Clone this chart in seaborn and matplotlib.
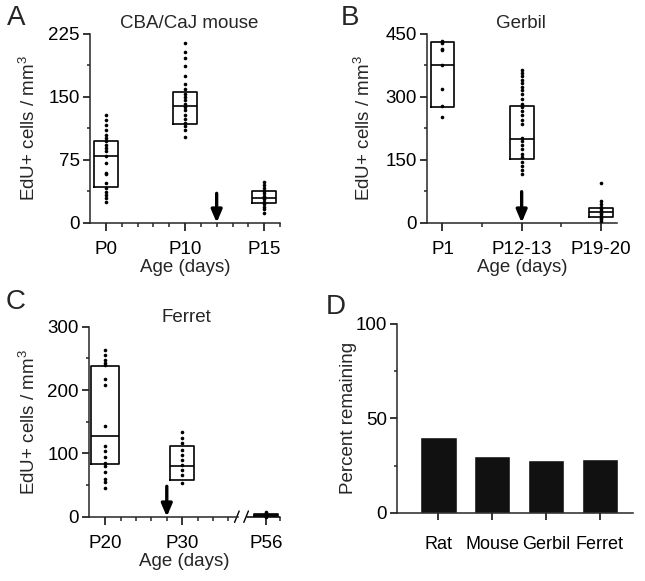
import numpy as np
import pandas as pd
import matplotlib
matplotlib.use("Agg")
import matplotlib.pyplot as plt
import matplotlib.transforms as mtransforms
import seaborn as sns

# A: CBA/CaJ mouse (EdU+ cells / mm3)
mouse_ages = ["P0", "P10", "P15"]
mouse_p0 = [129, 123, 117, 111, 105, 101, 97, 93, 89, 85, 79, 71, 59, 58, 47, 41, 37, 33, 29, 25]
mouse_p10 = [214, 203, 196, 187, 175, 165, 159, 154, 150, 146, 142, 138, 134, 129, 124, 119, 115, 111, 102]
mouse_p15 = [49, 45, 41, 38, 35, 32, 30, 28, 25, 22, 19, 16, 12]
mouse_q1 = [43, 118, 23]
mouse_med = [79, 139, 30]
mouse_q3 = [97, 156, 38]
mouse_arrow = 35

# B: gerbil
gerbil_ages = ["P1", "P12-13", "P19-20"]
gerbil_p1 = [433, 428, 415, 412, 375, 320, 278, 252]
gerbil_p12 = [364, 357, 349, 340, 332, 324, 316, 306, 296, 284, 275, 266, 256, 246, 235,
              203, 195, 185, 175, 165, 156, 145, 136, 125, 117]
gerbil_p19 = [94, 52, 45, 38, 33, 28, 24, 20, 16, 12, 8, 4]
gerbil_q1 = [276, 153, 13]
gerbil_med = [375, 199, 25]
gerbil_q3 = [430, 278, 34]
gerbil_arrow = 74

# C: ferret
ferret_ages = ["P20", "P30", "P56"]
ferret_p20 = [264, 255, 248, 243, 240, 217, 208, 143, 112, 103, 95, 85, 80, 70, 60, 55, 46]
ferret_p30 = [133, 124, 116, 105, 97, 90, 82, 74, 66, 54]
ferret_p56 = [0, 1, 2, 3, 4, 6, 8]
ferret_q1 = [83, 58, 0.5]
ferret_med = [127, 80, 2]
ferret_q3 = [238, 112, 4]
ferret_arrow = 48

# D: percent remaining
species = ["Rat", "Mouse", "Gerbil", "Ferret"]
percent_remaining = [40.3, 30, 28, 28.5]

sns.set_style("ticks")
plt.rcParams["font.family"] = ["Liberation Sans", "DejaVu Sans"]
plt.rcParams["mathtext.fontset"] = "custom"
plt.rcParams["mathtext.rm"] = "Liberation Sans"
plt.rcParams["mathtext.it"] = "Liberation Sans:italic"
plt.rcParams["axes.linewidth"] = 1.1
plt.rcParams["xtick.major.width"] = 1.1
plt.rcParams["ytick.major.width"] = 1.1
plt.rcParams["xtick.minor.width"] = 1.1
plt.rcParams["ytick.minor.width"] = 1.1

FS = 13.5
W, H = 645, 581
fig = plt.figure(figsize=(W / 100, H / 100), dpi=100)


def add_ax(left, top, right, bottom):
    return fig.add_axes([left / W, 1 - bottom / H, (right - left) / W, (bottom - top) / H])


def box_panel(ax, groups, pos, q1, med, q3, widths):
    stats = [dict(q1=a, med=m, q3=b, whislo=a, whishi=b) for a, m, b in zip(q1, med, q3)]
    ax.bxp(stats, positions=pos, widths=widths, showfliers=False, showcaps=False,
           boxprops=dict(color="k", lw=1.2), medianprops=dict(color="k", lw=1.2),
           whiskerprops=dict(lw=0), manage_ticks=False)
    df = pd.DataFrame({
        "x": np.concatenate([[p] * len(g) for p, g in zip(pos, groups)]),
        "y": np.concatenate(groups),
    })
    sns.stripplot(data=df, x="x", y="y", native_scale=True, jitter=False, orient="v",
                  color="k", size=2.6, linewidth=0, ax=ax, zorder=3, clip_on=False)


def style_ax(ax, xlim, ylim, xmaj, xlabels, xmin, yticks, yminor):
    sns.despine(ax=ax)
    ax.set_xlim(*xlim)
    ax.set_ylim(*ylim)
    ax.set_xticks(xmaj, xlabels)
    ax.set_xticks(xmin, minor=True)
    ax.set_yticks(yticks)
    ax.set_yticks(yminor, minor=True)
    ax.tick_params(axis="x", which="major", length=6, pad=7, labelsize=FS, colors="k")
    ax.tick_params(axis="x", which="minor", length=3)
    ax.tick_params(axis="y", which="major", length=5, pad=2.5, labelsize=FS, colors="k")
    ax.tick_params(axis="y", which="minor", length=2.5)


def arrow(ax, x, top):
    ax.annotate("", xy=(x, 0), xytext=(x, top),
                arrowprops=dict(arrowstyle="-|>,head_width=0.32,head_length=0.75", color="k",
                                lw=2.4, shrinkA=0, shrinkB=0, mutation_scale=10))


ylab = "EdU+ cells / mm$^3$"

# ---- A
axA = add_ax(90, 34, 280, 222.7)
box_panel(axA, [mouse_p0, mouse_p10, mouse_p15], [1, 6, 11], mouse_q1, mouse_med, mouse_q3, 1.55)
style_ax(axA, (0, 12), (0, 225), [1, 6, 11], mouse_ages, [2, 3, 4, 5, 7, 8, 9, 10, 12],
         [0, 75, 150, 225], [37.5, 112.5, 187.5])
arrow(axA, 8, mouse_arrow)
axA.set_ylabel(ylab, fontsize=FS)
axA.yaxis.set_label_coords(-0.27, 0.5)
axA.set_xlabel("Age (days)", fontsize=FS)
axA.xaxis.set_label_coords(0.5, -0.192)
axA.text(0.52, 1.03, "CBA/CaJ mouse", transform=axA.transAxes, ha="center", va="baseline", fontsize=FS)

# ---- B
axB = add_ax(427, 34, 616.7, 222.7)
box_panel(axB, [gerbil_p1, gerbil_p12, gerbil_p19], [1, 3, 5], gerbil_q1, gerbil_med, gerbil_q3, 0.6)
style_ax(axB, (0.61, 5.4), (0, 450), [1, 3, 5], gerbil_ages, [2, 4],
         [0, 150, 300, 450], [75, 225, 375])
arrow(axB, 3, gerbil_arrow)
axB.set_ylabel(ylab, fontsize=FS)
axB.yaxis.set_label_coords(-0.28, 0.5)
axB.set_xlabel("Age (days)", fontsize=FS)
axB.xaxis.set_label_coords(0.5, -0.192)
axB.text(0.494, 1.03, "Gerbil", transform=axB.transAxes, ha="center", va="baseline", fontsize=FS)

# ---- C
axC = add_ax(89, 326.7, 280, 516.7)
box_panel(axC, [ferret_p20, ferret_p30, ferret_p56], [1, 6, 11.43], ferret_q1, ferret_med, ferret_q3,
          [1.8, 1.55, 1.6])
style_ax(axC, (-0.05, 12.35), (0, 300), [1, 6, 11.43], ferret_ages, [2, 3, 4, 5, 7, 8, 9, 12.35],
         [0, 100, 200, 300], [50, 150, 250])
arrow(axC, 5, ferret_arrow)
# axis break
axC.spines["bottom"].set_bounds(-0.05, 9.6)
trans = mtransforms.blended_transform_factory(axC.transData, axC.transAxes)
axC.plot([10.2, 12.35], [0, 0], color="k", lw=1.1, transform=trans, clip_on=False)
for bx in (9.55, 10.15):
    axC.plot([bx - 0.15, bx + 0.15], [-0.03, 0.03], color="k", lw=1.0, transform=trans, clip_on=False)
axC.set_ylabel(ylab, fontsize=FS)
axC.yaxis.set_label_coords(-0.262, 0.5)
axC.set_xlabel("Age (days)", fontsize=FS)
axC.xaxis.set_label_coords(0.5, -0.19)
axC.text(0.51, 1.027, "Ferret", transform=axC.transAxes, ha="center", va="baseline", fontsize=FS)

# ---- D
axD = add_ax(397.3, 324, 633.3, 512.7)
sns.barplot(x=species, y=percent_remaining, color="#111111", saturation=1, width=0.68, ax=axD)
sns.despine(ax=axD)
axD.set_xlim(-0.76, 3.62)
axD.set_ylim(0, 100)
axD.set_yticks([0, 50, 100])
axD.set_yticks([25, 75], minor=True)
axD.tick_params(axis="x", length=5, pad=12, labelsize=13, colors="k")
axD.tick_params(axis="y", which="major", length=5, pad=2.5, labelsize=FS, colors="k")
axD.tick_params(axis="y", which="minor", length=2.5)
axD.set_ylabel("Percent remaining", fontsize=FS)
axD.yaxis.set_label_coords(-0.17, 0.5)

# panel letters
for lx, ly, s in [(7, 25, "A"), (341, 25, "B"), (6, 309, "C"), (326, 314, "D")]:
    fig.text(lx / W, 1 - ly / H, s, fontsize=20, ha="left", va="baseline")

fig.savefig("out.png", dpi=100, facecolor="white")
